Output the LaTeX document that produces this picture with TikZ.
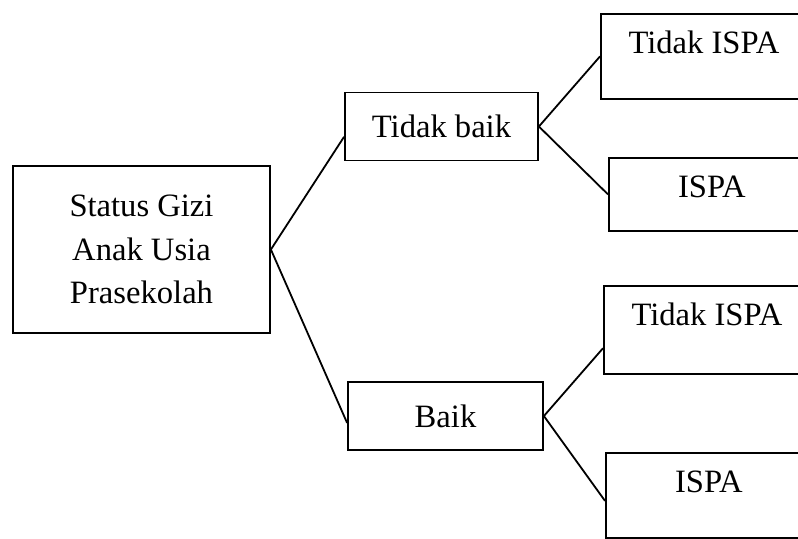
\documentclass[tikz,border=0pt]{standalone}
\usepackage{fontspec}
\setmainfont{Liberation Serif}
\usetikzlibrary{positioning}

\begin{document}
\begin{tikzpicture}[
  x=0.5pt, y=-0.5pt,
  font=\fontsize{16.3}{21.75}\selectfont,
  every node/.style={line width=0.9pt},
  mainbox/.style={rectangle, draw, align=center, inner sep=0pt, minimum width=128.5pt, minimum height=83.5pt},
  midbox/.style={rectangle, draw, align=center, inner sep=0pt, minimum height=34pt},
  leafbox/.style={rectangle, draw, anchor=north west, inner xsep=0pt, inner ysep=0pt, minimum width=103pt, text height=20pt},
  link/.style={line width=0.9pt}
]
\clip (0,0) rectangle (798,538);

\node (gizi)  [mainbox] at (141.5,249.5) {Status Gizi\\Anak Usia\\Prasekolah};
\node (tbaik) [midbox, minimum width=96.5pt] at (441.5,126.5) {Tidak baik};
\node (baik)  [midbox, minimum width=97.5pt] at (445.5,416)   {Baik};
\node (tb1)   [leafbox, text depth=22.5pt] at (600,13)  {Tidak ISPA};
\node (tb2)   [leafbox, text depth=16.5pt] at (608,157) {ISPA};
\node (b1)    [leafbox, text depth=24pt]   at (603,285) {Tidak ISPA};
\node (b2)    [leafbox, text depth=22.5pt] at (605,452) {ISPA};

\draw [link] (gizi.east)  -- (tbaik.186);
\draw [link] (gizi.east)  -- (baik.184);
\draw [link] (tbaik.east) -- (tb1.west);
\draw [link] (tbaik.east) -- (tb2.west);
\draw [link] (baik.east)  -- (b1.190);
\draw [link] (baik.east)  -- (b2.183);
\end{tikzpicture}
\end{document}
